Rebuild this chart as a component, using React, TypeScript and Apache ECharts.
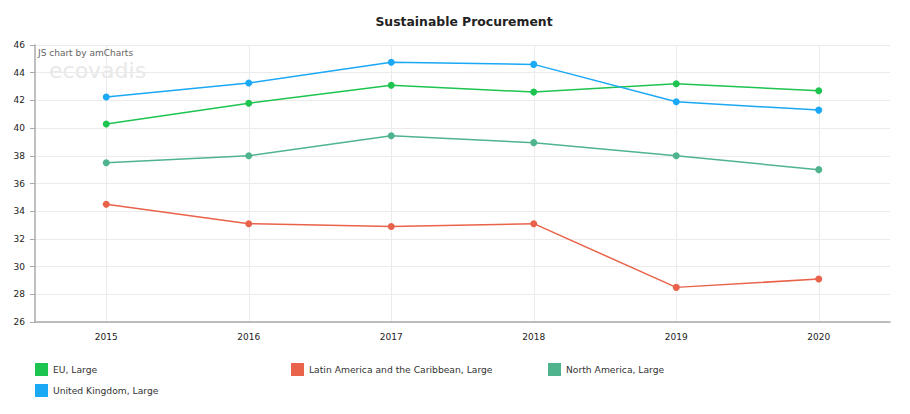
import React, { useEffect, useRef } from "react";
import * as echarts from "echarts";

const years = ["2015", "2016", "2017", "2018", "2019", "2020"];
const euLarge = [40.3, 41.8, 43.1, 42.6, 43.2, 42.7];
const latamLarge = [34.5, 33.1, 32.9, 33.1, 28.5, 29.1];
const northAmericaLarge = [37.5, 38.0, 39.45, 38.95, 38.0, 37.0];
const ukLarge = [42.25, 43.25, 44.75, 44.6, 41.9, 41.3];

const seriesNames = [
  "EU, Large",
  "Latin America and the Caribbean, Large",
  "North America, Large",
  "United Kingdom, Large",
];
const seriesData = [euLarge, latamLarge, northAmericaLarge, ukLarge];
const seriesColors = ["#1dc44f", "#e9634a", "#4fb48e", "#1ba8f5"];
const FONT = "DejaVu Sans, Verdana, sans-serif";

export default function App() {
  const ref = useRef<HTMLDivElement>(null);
  useEffect(() => {
    if (!ref.current) return;
    const chart = echarts.init(ref.current, undefined, { renderer: "svg" });
    const legendPos = [
      { left: 35, top: 363 },
      { left: 291, top: 363 },
      { left: 548, top: 363 },
      { left: 35, top: 384 },
    ];
    chart.setOption({
      animation: false,
      backgroundColor: "#ffffff",
      textStyle: { fontFamily: FONT },
      grid: { left: 35, right: 20, top: 45, bottom: 92, containLabel: false },
      graphic: [
        {
          type: "text",
          x: 464,
          y: 21,
          style: {
            text: "Sustainable Procurement",
            font: "bold 12.4px " + FONT,
            fill: "#222",
            textAlign: "center",
            textVerticalAlign: "middle",
          },
        },
        {
          type: "text",
          x: 38,
          y: 53,
          z: 10,
          style: {
            text: "JS chart by amCharts",
            font: "9px " + FONT,
            fill: "#666",
            textVerticalAlign: "middle",
          },
        },
        {
          type: "text",
          x: 49,
          y: 70,
          z: 0,
          style: {
            text: "ecovadis",
            font: "22px " + FONT,
            fill: "#e8e8e8",
            textVerticalAlign: "middle",
          },
        },
      ],
      legend: seriesNames.map((n, i) => ({
        data: [n],
        left: legendPos[i].left,
        top: legendPos[i].top,
        padding: 0,
        icon: "rect",
        itemWidth: 13,
        itemHeight: 13,
        selectedMode: false,
        textStyle: { fontSize: 9.2, color: "#333", fontFamily: FONT },
      })),
      xAxis: {
        type: "category",
        data: years,
        boundaryGap: true,
        axisLine: { lineStyle: { color: "#aaa", width: 1.5 } },
        axisTick: { alignWithLabel: true, length: 5, lineStyle: { color: "#aaa" } },
        axisLabel: { fontSize: 9, color: "#222", margin: 10, fontFamily: FONT },
        splitLine: { show: true, alignWithLabel: true, lineStyle: { color: "#ebebeb" } },
      },
      yAxis: {
        type: "value",
        min: 26,
        max: 46,
        interval: 2,
        axisLine: { show: true, lineStyle: { color: "#aaa", width: 1.5 } },
        axisTick: { show: true, length: 5, lineStyle: { color: "#aaa" } },
        axisLabel: { fontSize: 9, color: "#222", margin: 10, fontFamily: FONT },
        splitLine: { show: true, lineStyle: { color: "#ebebeb" } },
      },
      series: seriesNames.map((n, i) => ({
        name: n,
        type: "line",
        data: seriesData[i],
        color: seriesColors[i],
        symbol: "circle",
        symbolSize: 7,
        lineStyle: { width: 1.5, color: seriesColors[i] },
        itemStyle: { color: seriesColors[i] },
      })),
    });
    return () => chart.dispose();
  }, []);
  return (
    <div
      ref={ref}
      style={{ position: "fixed", left: 0, top: 0, width: 910, height: 414 }}
    />
  );
}
